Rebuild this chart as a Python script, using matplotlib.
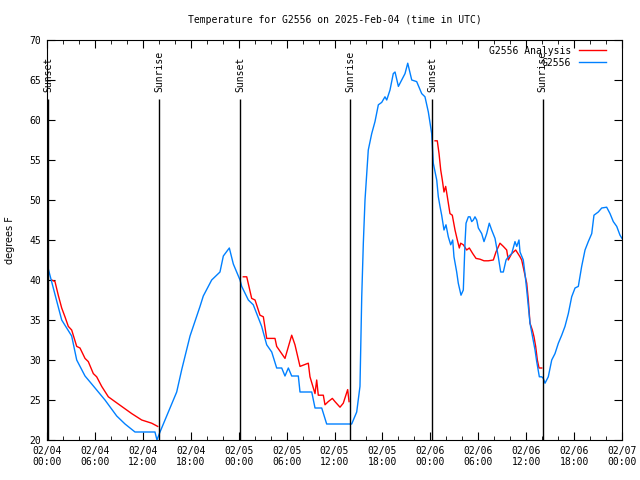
import matplotlib
matplotlib.use('Agg')
import matplotlib.pyplot as plt
import numpy as np

# hours since 2025-02-04 00:00 UTC
obs_hours = [0.0, 0.79, 1.84, 3.09, 3.72, 4.76, 5.60, 7.26, 8.73, 9.77, 11.02, 13.52, 13.77,
             14.15, 14.99, 16.24, 16.87, 17.91, 19.16, 19.57, 20.62, 21.66, 22.08, 22.83, 23.33,
             24.17, 24.38, 25.21, 25.83, 26.88, 27.51, 28.14, 28.76, 29.39, 29.80, 30.22, 30.64,
             31.47, 31.68, 33.15, 33.56, 34.40, 35.02, 38.15, 38.78, 39.19, 39.41, 39.61, 39.82,
             40.03, 40.23, 40.66, 41.07, 41.49, 41.91, 42.32, 42.54, 42.95, 43.36, 43.58, 44.0,
             44.42, 44.83, 45.17, 45.67, 46.29, 46.92, 47.33, 47.75, 48.17, 48.37, 48.80, 49.0,
             49.21, 49.42, 49.71, 49.96, 50.25, 50.55, 50.80, 50.96, 51.30, 51.50, 51.84, 52.13,
             52.34, 52.47, 52.76, 52.97, 53.18, 53.38, 53.59, 53.81, 54.01, 54.43, 54.72, 55.06,
             55.38, 55.68, 56.10, 56.51, 56.81, 57.14, 57.48, 57.76, 58.19, 58.60, 58.82, 59.10,
             59.23, 59.64, 59.85, 60.07, 60.27, 60.48, 60.69, 60.89, 61.11, 61.32, 61.65, 61.95,
             62.15, 62.36, 62.77, 63.20, 63.61, 64.03, 64.45, 64.86, 65.28, 65.70, 66.12, 66.53,
             66.95, 67.37, 67.78, 68.21, 68.49, 69.03, 69.46, 70.08, 70.50, 70.91, 71.34, 71.75,
             72.0]
obs_temp = [42, 39, 35, 33, 30, 28, 27, 25, 23, 22, 21, 21, 20,
            21, 23, 26, 28.8, 33, 36.7, 38, 40, 41, 43, 44, 42,
            40, 39.2, 37.5, 36.9, 34.2, 31.9, 31, 29, 29, 28, 29, 28,
            28, 26, 26, 24, 24, 22, 22, 23.5, 26.7, 37.9, 44.6, 50,
            53.1, 56.25, 58.3, 59.8, 61.9, 62.2, 62.9, 62.5, 63.75, 65.8, 66, 64.2,
            65, 65.8, 67.1, 65, 64.8, 63.3, 62.9, 61, 58.3, 54.6, 52.5, 50.4,
            49.2, 48.1, 46.25, 46.9, 45.4, 44.4, 45, 42.9, 41, 39.6, 38.1, 38.75,
            44.6, 47.1, 47.9, 47.9, 47.3, 47.5, 47.9, 47.5, 46.5, 45.8, 44.8, 45.8,
            47.1, 46.25, 45.2, 42.9, 41, 41, 42.5, 42.9, 43.3, 44.8, 44.2, 45,
            43.5, 42.5, 40.8, 38.75, 36.7, 34.6, 33.5, 32.5, 31.25, 29.8, 27.9, 27.9,
            27.7, 27.1, 27.9, 30, 30.8, 32.1, 33.1, 34.2, 35.8, 37.9, 39, 39.2,
            41.7, 43.75, 44.8, 45.8, 48.1, 48.5, 49, 49.1, 48.3, 47.3, 46.7, 45.6,
            45.2]

# analysis only covers the nights; NaN breaks the line
ana_hours = [0.59, 1.0, 1.41, 1.84, 2.25, 2.67, 3.09, 3.72, 4.13, 4.76, 5.17, 5.80, 6.22, 6.85,
             7.68, 8.51, 9.35, 10.61, 11.86, 13.11, 13.86, 19.0,
             24.58, 25.01, 25.63, 26.05, 26.67, 27.09, 27.51, 28.55, 28.76, 29.80, 30.64, 31.05,
             31.68, 32.72, 32.93, 33.56, 33.77, 33.97, 34.60, 34.81, 35.22, 35.73, 36.06, 36.69,
             37.10, 37.65, 37.82, 43.0,
             48.59, 48.87, 49.09, 49.30, 49.50, 49.71, 49.92, 50.13, 50.46, 50.75, 51.09, 51.38,
             51.63, 51.80, 52.13, 52.55, 52.88, 53.31, 53.72, 54.22, 54.72, 55.26, 55.89, 56.22,
             56.72, 57.14, 57.56, 57.76, 58.19, 58.69, 59.23, 59.44, 59.85, 60.07, 60.27, 60.48,
             60.77, 60.98, 61.19, 61.40, 61.61, 61.95]
ana_temp = [40, 39.8, 38.1, 36.5, 35.4, 34.2, 33.75, 31.7, 31.5, 30.2, 29.8, 28.3, 27.9, 26.7,
            25.4, 24.8, 24.2, 23.3, 22.5, 22.1, 21.7, np.nan,
            40.4, 40.4, 37.7, 37.5, 35.6, 35.4, 32.7, 32.7, 31.7, 30.2, 33.1, 31.9,
            29.2, 29.6, 27.9, 25.8, 27.5, 25.6, 25.6, 24.4, 24.8, 25.2, 24.8, 24.1,
            24.6, 26.3, 24.8, np.nan,
            57.4, 57.4, 55.8, 53.75, 52.5, 51, 51.7, 50.4, 48.3, 48.1, 46.25, 45,
            44, 44.6, 44.4, 43.75, 44, 43.3, 42.7, 42.6, 42.4, 42.4, 42.5, 43.5,
            44.6, 44.2, 43.75, 42.5, 43.3, 43.75, 42.9, 42.5, 40.6, 39.6, 37.5, 34.6,
            33.75, 32.9, 31.7, 30, 29, 29]

sun_hours = [0.17, 14.05, 24.2, 37.97, 48.25, 62.05]
sun_labels = ['Sunset', 'Sunrise', 'Sunset', 'Sunrise', 'Sunset', 'Sunrise']

tick_hours = [0, 6, 12, 18, 24, 30, 36, 42, 48, 54, 60, 66, 72]
tick_labels = ['02/04\n00:00', '02/04\n06:00', '02/04\n12:00', '02/04\n18:00',
               '02/05\n00:00', '02/05\n06:00', '02/05\n12:00', '02/05\n18:00',
               '02/06\n00:00', '02/06\n06:00', '02/06\n12:00', '02/06\n18:00',
               '02/07\n00:00']

MONO = 'DejaVu Sans Mono'

fig = plt.figure(figsize=(6.4, 4.8), dpi=100)
ax = fig.add_axes([47 / 640, 40 / 480, 575 / 640, 400 / 480])

ax.plot(ana_hours, ana_temp, color='#ff0000', lw=1, label='G2556 Analysis')
ax.plot(obs_hours, obs_temp, color='#0080ff', lw=1, label='G2556')

for h, lab in zip(sun_hours, sun_labels):
    ax.vlines(h, 20, 62.6, color='black', lw=1)
    ax.text(h, 63.5, lab, rotation=90, ha='center', va='bottom',
            fontsize=7, family=MONO)

ax.set_xlim(0, 72)
ax.set_ylim(20, 70)
ax.set_xticks(tick_hours)
ax.set_xticklabels(tick_labels, family=MONO, fontsize=7)
ax.set_xticks(np.arange(0, 73, 2), minor=True)
ax.set_yticks(range(20, 71, 5))
ax.set_yticklabels([str(v) for v in range(20, 71, 5)], family=MONO, fontsize=7)
ax.tick_params(which='both', direction='in', top=True, right=True)
ax.tick_params(which='major', length=6, pad=4)
ax.tick_params(which='minor', length=3)

ax.set_ylabel('degrees F', fontsize=7)
ax.yaxis.set_label_coords(-0.056, 0.5)
ax.set_title('Temperature for G2556 on 2025-Feb-04 (time in UTC)',
             family=MONO, fontsize=7, pad=12)

leg = ax.legend(loc='upper right', bbox_to_anchor=(1 - 10 / 575, 1), frameon=False,
                markerfirst=False, prop={'family': MONO, 'size': 7}, handlelength=2.8,
                borderaxespad=0.2, labelspacing=0.2)

fig.savefig('out.png', dpi=100)
